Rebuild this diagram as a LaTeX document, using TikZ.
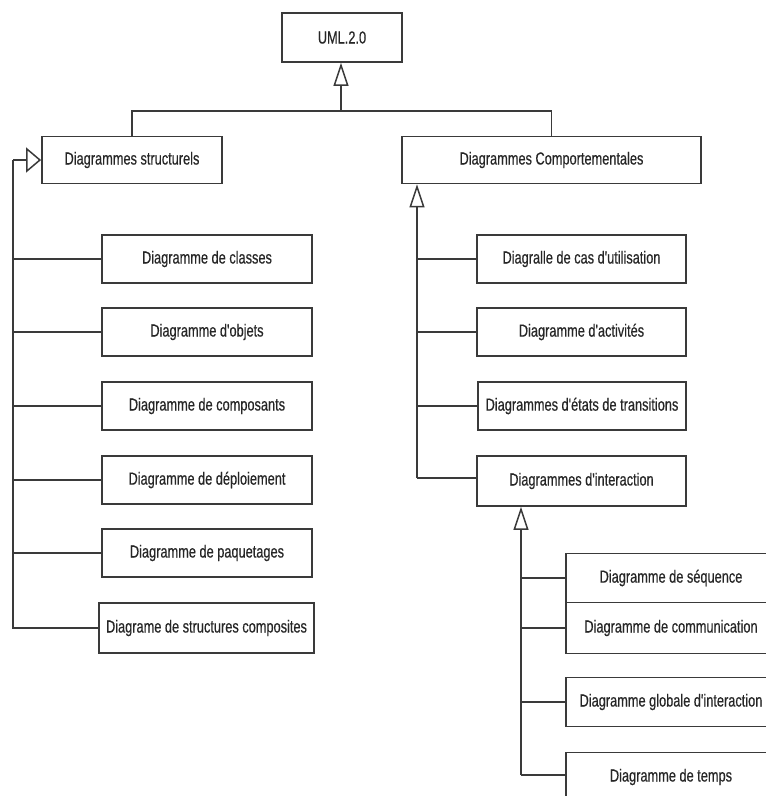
\documentclass[tikz,border=0pt]{standalone}
\usepackage{fontspec}
\newfontfamily\boxfont[FakeStretch=0.73,FakeBold=0.4]{Liberation Sans}
\usetikzlibrary{arrows.meta}
\definecolor{linegray}{HTML}{3A3A3A}
\begin{document}
\begin{tikzpicture}[x=1pt,y=-1pt,
  box/.style={draw=linegray, line width=1.8pt, fill=white, inner sep=0pt,
    minimum height=48pt, font=\boxfont\fontsize{17.5}{20}\selectfont, text=black!85},
  link/.style={draw=linegray, line width=1.8pt},
  genv/.style={link, -{Triangle[open, length=23pt, width=15pt, line width=1.5pt]}},
  genh/.style={link, -{Triangle[open, length=15pt, width=25pt, line width=1.5pt]}}]
\useasboundingbox (0,0) rectangle (766,796);
\clip (0,0) rectangle (766,796);

% root and the two families
\node[box, minimum width=120pt, minimum height=49pt] (uml) at (342,37.5) {UML.2.0};
\node[box, minimum width=180pt, minimum height=47pt] (ds) at (132,160) {Diagrammes structurels};
\node[box, minimum width=299pt, minimum height=47pt] (dc) at (551.5,160) {Diagrammes Comportementales};

% structural diagrams
\node[box, minimum width=210pt] (s1) at (207,259) {Diagramme de classes};
\node[box, minimum width=210pt] (s2) at (207,332) {Diagramme d'objets};
\node[box, minimum width=210pt] (s3) at (207,406) {Diagramme de composants};
\node[box, minimum width=210pt] (s4) at (207,480) {Diagramme de déploiement};
\node[box, minimum width=210pt] (s5) at (207,553) {Diagramme de paquetages};
\node[box, minimum width=215pt, minimum height=50pt] (s6) at (206.5,628) {Diagrame de structures composites};

% behavioural diagrams
\node[box, minimum width=209pt] (c1) at (581.5,259) {Diagralle de cas d'utilisation};
\node[box, minimum width=209pt] (c2) at (581.5,332) {Diagramme d'activités};
\node[box, minimum width=208pt] (c3) at (582,406) {Diagrammes d'états de transitions};
\node[box, minimum width=209pt, minimum height=50pt] (c4) at (581.5,481) {Diagrammes d'interaction};

% interaction diagrams
\node[box, minimum width=210pt, minimum height=49pt] (i1) at (671,578) {Diagramme de séquence};
\node[box, minimum width=210pt, minimum height=51pt] (i2) at (671,628) {Diagramme de communication};
\node[box, minimum width=210pt, minimum height=49pt] (i3) at (671,702) {Diagramme globale d'interaction};
\node[box, minimum width=210pt, minimum height=49pt] (i4) at (671,777) {Diagramme de temps};

% generalisation towards the root
\coordinate (top) at (341,111);
\draw[link] (ds.north) |- (top) -| (dc.north);
\draw[genv] (top) -- (top |- uml.south);

% structural branch
\coordinate (lbus) at (13,160);
\draw[genh] (lbus) -- (ds.west);
\draw[link] (lbus) |- (s6.west);
\foreach \n in {s1,s2,s3,s4,s5}
  \draw[link] (lbus |- \n.west) -- (\n.west);

% behavioural branch
\coordinate (rbus) at (417,478);
\draw[genv] (rbus) -- (rbus |- dc.south);
\draw[link] (rbus) -- (rbus -| c4.west);
\foreach \n in {c1,c2,c3}
  \draw[link] (rbus |- \n.west) -- (\n.west);

% interaction branch
\coordinate (ibus) at (521,775);
\draw[genv] (ibus) -- (ibus |- c4.south);
\draw[link] (ibus) -- (ibus -| i4.west);
\foreach \n in {i1,i2,i3}
  \draw[link] (ibus |- \n.west) -- (\n.west);
\end{tikzpicture}
\end{document}
